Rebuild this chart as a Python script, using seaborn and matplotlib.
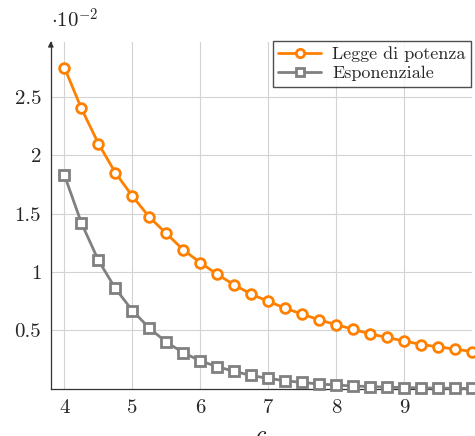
# Decay of the two models: power law vs exponential
import numpy as np
import pandas as pd
import seaborn as sns
import matplotlib.pyplot as plt

c_values = [4.0, 4.25, 4.5, 4.75, 5.0, 5.25, 5.5, 5.75, 6.0, 6.25, 6.5, 6.75, 7.0,
            7.25, 7.5, 7.75, 8.0, 8.25, 8.5, 8.75, 9.0, 9.25, 9.5, 9.75, 10.0]
power_law = [2.75, 2.40, 2.10, 1.85, 1.65, 1.47, 1.33, 1.19, 1.08, 0.98, 0.89, 0.81, 0.75,
             0.69, 0.64, 0.59, 0.55, 0.51, 0.47, 0.44, 0.41, 0.38, 0.36, 0.34, 0.32]
exponential = [1.83, 1.42, 1.10, 0.86, 0.67, 0.52, 0.40, 0.31, 0.24, 0.19, 0.15, 0.115, 0.09,
               0.07, 0.055, 0.042, 0.033, 0.025, 0.020, 0.015, 0.012, 0.009, 0.007, 0.005, 0.004]
series_names = ["Legge di potenza", "Esponenziale"]
x_ticks = [4, 5, 6, 7, 8, 9]
y_ticks = [0.5, 1.0, 1.5, 2.0, 2.5]
y_tick_labels = ["0.5", "1", "1.5", "2", "2.5"]

sns.set_style("white")
plt.rcParams["font.family"] = ["cmr10", "DejaVu Serif"]
plt.rcParams["mathtext.fontset"] = "cm"
plt.rcParams["axes.unicode_minus"] = False

df = pd.DataFrame({
    "c": c_values * 2,
    "val": power_law + exponential,
    "serie": [series_names[0]] * len(c_values) + [series_names[1]] * len(c_values),
})

fig = plt.figure(figsize=(4.75, 4.36), dpi=100)
ax = fig.add_axes([0.107, 0.108, 0.887, 0.796])

colors = {"Legge di potenza": "#ff8000", "Esponenziale": "#808080"}
markers = {"Legge di potenza": "o", "Esponenziale": "s"}
for name in series_names:
    sub = df[df["serie"] == name]
    sns.lineplot(data=sub, x="c", y="val", ax=ax, color=colors[name], linewidth=2,
                 marker=markers[name], markersize=7, markerfacecolor="white",
                 markeredgecolor=colors[name], markeredgewidth=2, label=name,
                 clip_on=False, zorder=3)

ax.set_xlim(3.8, 10.0)
ax.set_ylim(0, 2.97)
ax.set_xticks(x_ticks)
ax.set_xticklabels([str(t) for t in x_ticks])
ax.set_yticks(y_ticks)
ax.set_yticklabels(y_tick_labels)
ax.tick_params(labelsize=15, length=0, pad=7)
ax.grid(True, color="#d3d3d3", linewidth=0.8)
ax.set_axisbelow(True)

for s in ["top", "right"]:
    ax.spines[s].set_visible(False)
for s in ["left", "bottom"]:
    ax.spines[s].set_color("#333333")
    ax.spines[s].set_linewidth(0.9)
# arrow tip on y axis
ax.annotate("", xy=(0, 1.01), xytext=(0, 0.98), xycoords="axes fraction",
            arrowprops=dict(arrowstyle="-|>", color="#333333", lw=0.9,
                            mutation_scale=8))

ax.set_xlabel("$c$", fontsize=17, labelpad=6)
ax.set_ylabel("")
ax.text(0.0, 1.03, r"$\cdot 10^{-2}$", transform=ax.transAxes, fontsize=15,
        ha="left", va="bottom")

leg = ax.legend(loc="upper right", bbox_to_anchor=(0.997, 1.003), fontsize=13,
                frameon=True, fancybox=False, edgecolor="#222222",
                handlelength=2.4, borderpad=0.3, labelspacing=0.2,
                borderaxespad=0, handletextpad=0.6)
leg.get_frame().set_linewidth(1.0)
for h in leg.legend_handles:
    h.set_markersize(6)

fig.savefig("out.png", dpi=100)
